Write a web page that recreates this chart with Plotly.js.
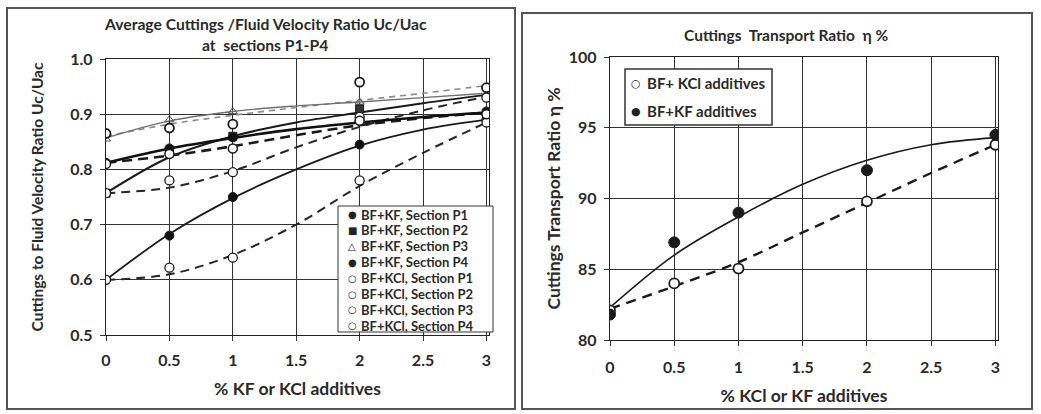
<!DOCTYPE html>
<html>
<head>
<meta charset="utf-8">
<script src="https://cdn.plot.ly/plotly-3.0.1.min.js"></script>
<style>html,body{margin:0;padding:0;background:#fff;}#chart{width:1041px;height:414px;}</style>
</head>
<body>
<div id="chart"></div>
<script>
// ---------- data: left chart ----------
const xPts = [0, 0.5, 1, 2, 3];
const xTrend = [0, 0.5, 1, 1.5, 2, 2.5, 3];

const kfP1 = [0.600, 0.680, 0.750, 0.845, 0.890];
const kfP2 = [0.757, 0.830, 0.860, 0.910, 0.895];
const kfP3 = [0.855, 0.890, 0.905, 0.922, 0.935];
const kfP4 = [0.812, 0.838, 0.858, 0.888, 0.905];
const kclP1 = [0.600, 0.622, 0.640, 0.780, 0.885];
const kclP2 = [0.757, 0.780, 0.795, 0.895, 0.930];
const kclP3 = [0.810, 0.828, 0.838, 0.888, 0.900];
const kclP4 = [0.865, 0.875, 0.882, 0.958, 0.948];

const kfP1Trend = [0.600, 0.683, 0.748, 0.800, 0.843, 0.872, 0.890];
const kfP2Trend = [0.757, 0.822, 0.860, 0.885, 0.903, 0.920, 0.935];
const kfP3Trend = [0.857, 0.888, 0.905, 0.915, 0.922, 0.930, 0.938];
const kfP4Trend = [0.812, 0.838, 0.857, 0.873, 0.885, 0.895, 0.903];
const kclP1Trend = [0.600, 0.610, 0.645, 0.700, 0.770, 0.830, 0.885];
const kclP2Trend = [0.757, 0.767, 0.797, 0.840, 0.877, 0.907, 0.932];
const kclP3Trend = [0.812, 0.825, 0.842, 0.862, 0.880, 0.893, 0.903];
const kclP4Trend = [0.860, 0.882, 0.898, 0.912, 0.925, 0.938, 0.952];

const leftLegendNames = ["BF+KF, Section P1", "BF+KF, Section P2", "BF+KF, Section P3", "BF+KF, Section P4",
                         "BF+KCl, Section P1", "BF+KCl, Section P2", "BF+KCl, Section P3", "BF+KCl, Section P4"];
const leftLegendSymbols = ["●", "■", "△", "●", "○", "○", "○", "○"];
const xTickVals = [0, 0.5, 1, 1.5, 2, 2.5, 3];
const xTickText = ["0", "0.5", "1", "1.5", "2", "2.5", "3"];
const yTickValsL = [0.5, 0.6, 0.7, 0.8, 0.9, 1.0];
const yTickTextL = ["0.5", "0.6", "0.7", "0.8", "0.9", "1.0"];

// ---------- data: right chart ----------
const kclEta = [82.1, 84.0, 85.05, 89.8, 93.8];
const kfEta = [81.8, 86.9, 89.0, 92.0, 94.5];
const kclEtaTrend = [82.2, 83.8, 85.5, 87.6, 89.7, 91.8, 93.8];
const kfEtaTrend = [82.3, 86.0, 88.7, 91.0, 92.7, 93.8, 94.3];
const rightLegendNames = ["BF+ KCl additives", "BF+KF additives"];
const rightLegendSymbols = ["○", "●"];
const yTickValsR = [80, 85, 90, 95, 100];

const FONT = "Lato, 'Open Sans', sans-serif";
const SYMFONT = "'DejaVu Sans', sans-serif";
const TXT = "#2a2a2a";

function lineTrace(y, xa, ya, color, width, dash) {
  return {x: xTrend, y: y, xaxis: xa, yaxis: ya, mode: "lines", showlegend: false, hoverinfo: "skip",
          line: {color: color, width: width, dash: dash, shape: "spline", smoothing: 1.0}};
}
function markTrace(y, xa, ya, name, symbol, fill, size, lw) {
  return {x: xPts, y: y, xaxis: xa, yaxis: ya, mode: "markers", name: name, showlegend: false,
          marker: {symbol: symbol, color: fill, size: size, line: {color: "#1a1a1a", width: lw}}};
}

const traces = [
  lineTrace(kclP4Trend, "x", "y", "#8a8a8a", 1.6, "6px,5px"),
  lineTrace(kfP3Trend, "x", "y", "#6e6e6e", 1.4, "solid"),
  lineTrace(kclP1Trend, "x", "y", "#262626", 2.0, "9px,6px"),
  lineTrace(kclP2Trend, "x", "y", "#262626", 2.0, "9px,6px"),
  lineTrace(kclP3Trend, "x", "y", "#1a1a1a", 2.6, "10px,6px"),
  lineTrace(kfP1Trend, "x", "y", "#1a1a1a", 1.8, "solid"),
  lineTrace(kfP2Trend, "x", "y", "#1a1a1a", 2.0, "solid"),
  lineTrace(kfP4Trend, "x", "y", "#111111", 2.6, "solid"),
  markTrace(kfP1, "x", "y", leftLegendNames[0], "circle", "#111", 9, 1),
  markTrace(kfP2, "x", "y", leftLegendNames[1], "square", "#333", 8, 1),
  markTrace(kfP3, "x", "y", leftLegendNames[2], "triangle-up-open", "#555", 8, 1),
  markTrace(kfP4, "x", "y", leftLegendNames[3], "circle", "#111", 9, 1),
  markTrace(kclP1, "x", "y", leftLegendNames[4], "circle", "#fff", 9, 1.3),
  markTrace(kclP2, "x", "y", leftLegendNames[5], "circle", "#fff", 9, 1.3),
  markTrace(kclP3, "x", "y", leftLegendNames[6], "circle", "#fff", 9, 1.5),
  markTrace(kclP4, "x", "y", leftLegendNames[7], "circle", "#fff", 9, 1.8),

  lineTrace(kclEtaTrend, "x2", "y2", "#1a1a1a", 2.4, "10px,7px"),
  lineTrace(kfEtaTrend, "x2", "y2", "#1a1a1a", 1.6, "solid"),
  markTrace(kclEta, "x2", "y2", rightLegendNames[0], "circle", "#fff", 10, 1.8),
  markTrace(kfEta, "x2", "y2", rightLegendNames[1], "circle", "#1a1a1a", 11, 1)
];

const W = 1041, H = 414;
function px(v) { return v / W; }
function py(v) { return 1 - v / H; }

const axisCommon = {
  showline: true, linecolor: "#222", linewidth: 1.2, mirror: true,
  showgrid: true, gridcolor: "#333", gridwidth: 1,
  zeroline: false, ticks: "outside", ticklen: 5, tickcolor: "#333",
  tickfont: {family: FONT, size: 16, color: TXT, weight: "bold"}
};

const annotations = [
  {xref: "paper", yref: "paper", x: px(265), y: py(24), xanchor: "center", yanchor: "middle", showarrow: false,
   text: "Average Cuttings /Fluid Velocity Ratio Uc/Uac", font: {family: FONT, size: 15.7, color: TXT, weight: "bold"}},
  {xref: "paper", yref: "paper", x: px(265), y: py(45), xanchor: "center", yanchor: "middle", showarrow: false,
   text: "at  sections P1-P4", font: {family: FONT, size: 15.7, color: TXT, weight: "bold"}},
  {xref: "paper", yref: "paper", x: px(786), y: py(35), xanchor: "center", yanchor: "middle", showarrow: false,
   text: "Cuttings  Transport Ratio  η %", font: {family: FONT, size: 15.5, color: TXT, weight: "bold"}}
];
// custom legend, left chart
leftLegendNames.forEach((name, i) => {
  const yy = 214.5 + i * 15.9;
  annotations.push({xref: "paper", yref: "paper", x: px(352), y: py(yy), xanchor: "center", yanchor: "middle",
    showarrow: false, text: leftLegendSymbols[i], font: {family: SYMFONT, size: 10, color: "#222"}});
  annotations.push({xref: "paper", yref: "paper", x: px(359), y: py(yy), xanchor: "left", yanchor: "middle",
    showarrow: false, text: name, font: {family: FONT, size: 13, color: TXT, weight: "bold"}});
});
// custom legend, right chart
rightLegendNames.forEach((name, i) => {
  const yy = 83 + i * 28;
  annotations.push({xref: "paper", yref: "paper", x: px(636), y: py(yy), xanchor: "center", yanchor: "middle",
    showarrow: false, text: rightLegendSymbols[i], font: {family: SYMFONT, size: 11, color: "#222"}});
  annotations.push({xref: "paper", yref: "paper", x: px(645), y: py(yy), xanchor: "left", yanchor: "middle",
    showarrow: false, text: name, font: {family: FONT, size: 15, color: TXT, weight: "bold"}});
});

const layout = {
  width: W, height: H,
  margin: {l: 0, r: 0, t: 0, b: 0},
  paper_bgcolor: "#fff", plot_bgcolor: "#fff",
  font: {family: FONT, color: TXT},
  showlegend: false,
  xaxis: Object.assign({}, axisCommon, {
    domain: [px(106), px(489)], range: [0, 3.02], tickvals: xTickVals, ticktext: xTickText, anchor: "y",
    ticklabelstandoff: 6,
    title: {text: "% KF or KCl additives", font: {family: FONT, size: 17.5, color: TXT, weight: "bold"}, standoff: 14}
  }),
  yaxis: Object.assign({}, axisCommon, {
    domain: [1 - 335 / H, 1 - 59 / H], range: [0.5, 1.0], tickvals: yTickValsL, ticktext: yTickTextL, anchor: "x",
    ticklabelstandoff: 4,
    title: {text: "Cuttings to Fluid Velocity Ratio Uc/Uac", font: {family: FONT, size: 15.5, color: TXT, weight: "bold"}, standoff: 22}
  }),
  xaxis2: Object.assign({}, axisCommon, {
    domain: [px(610), px(998)], range: [0, 3.02], tickvals: xTickVals, ticktext: xTickText, anchor: "y2",
    ticklabelstandoff: 8,
    title: {text: "% KCl or KF additives", font: {family: FONT, size: 17.5, color: TXT, weight: "bold"}, standoff: 14}
  }),
  yaxis2: Object.assign({}, axisCommon, {
    domain: [1 - 340 / H, 1 - 57 / H], range: [80, 100], tickvals: yTickValsR, anchor: "x2",
    ticklabelstandoff: 4,
    title: {text: "Cuttings Transport Ratio η %", font: {family: FONT, size: 17.5, color: TXT, weight: "bold"}, standoff: 3}
  }),
  annotations: annotations,
  shapes: [
    {type: "rect", xref: "paper", yref: "paper", x0: px(7), x1: px(515), y0: py(409), y1: py(8),
     line: {color: "#555", width: 2}},
    {type: "rect", xref: "paper", yref: "paper", x0: px(522), x1: px(1032), y0: py(409), y1: py(13),
     line: {color: "#555", width: 2}},
    {type: "rect", xref: "paper", yref: "paper", x0: px(338), x1: px(493), y0: py(332), y1: py(206),
     line: {color: "#333", width: 1}, fillcolor: "#fff", layer: "above"},
    {type: "rect", xref: "paper", yref: "paper", x0: px(625), x1: px(772), y0: py(125), y1: py(69),
     line: {color: "#333", width: 1.5}, fillcolor: "#fff", layer: "above"}
  ]
};

Plotly.newPlot("chart", traces, layout, {displayModeBar: false, staticPlot: true});
</script>
</body>
</html>
